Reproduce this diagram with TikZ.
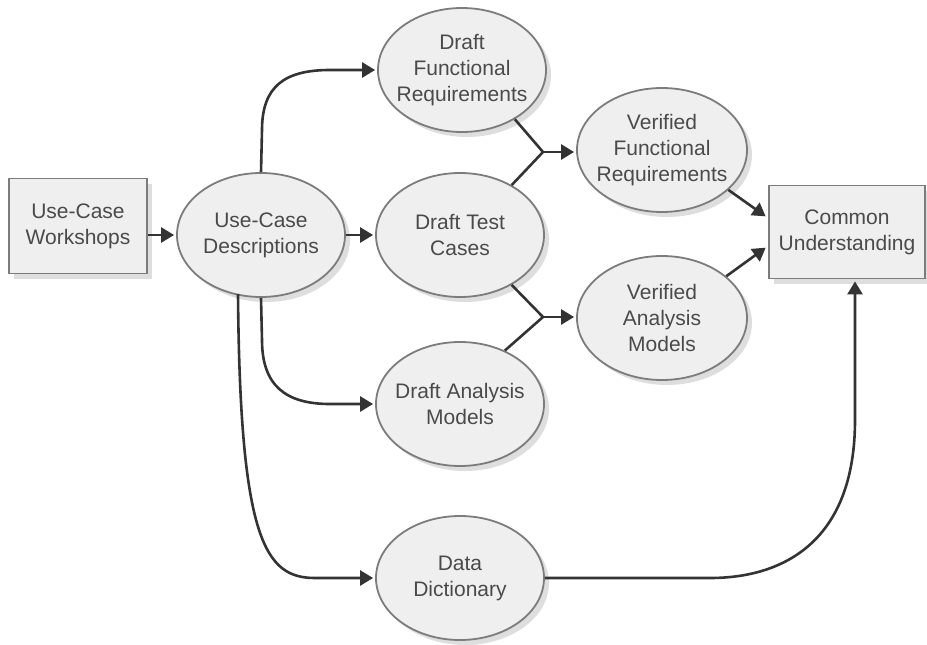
\documentclass[tikz,border=0pt]{standalone}
\usepackage{fontspec}
\setmainfont{Liberation Sans}
\usetikzlibrary{shapes.geometric,shadows,arrows.meta}
\definecolor{linegray}{HTML}{333333}
\definecolor{edgegray}{HTML}{7C7C7C}
\definecolor{fillgray}{HTML}{EFEFEF}
\definecolor{textgray}{HTML}{4A4A4A}
\tikzset{
  base/.style={draw=edgegray, line width=1.8pt, fill=fillgray, text=textgray, align=center,
    font=\fontsize{21}{26}\selectfont,
    drop shadow={shadow xshift=5pt, shadow yshift=-5pt, fill=black!13, opacity=1}},
  bubble/.style={base, ellipse, minimum width=168pt, minimum height=124pt,
    inner xsep=-20pt, inner ysep=-10pt},
  boxnode/.style={base, rectangle, inner sep=0pt},
  flow/.style={draw=linegray, line width=2.6pt, -{Triangle[length=13pt,width=15pt]}, shorten >=2pt},
  joinline/.style={draw=linegray, line width=2.6pt}
}
\begin{document}
\begin{tikzpicture}[x=1pt,y=-1pt]
\useasboundingbox (0,0) rectangle (927,645);
% nodes
\node[boxnode, minimum width=138pt, minimum height=95pt] (ucw) at (78,226) {Use-Case\\Workshops};
\node[bubble] (ucd) at (261,235) {Use-Case\\Descriptions};
\node[bubble] (dfr) at (462,70) {Draft\\Functional\\Requirements};
\node[bubble] (dtc) at (460,235) {Draft Test\\Cases};
\node[bubble] (dam) at (460,404) {Draft Analysis\\Models};
\node[bubble] (dd) at (460,578) {Data\\Dictionary};
\node[bubble, minimum width=170pt] (vfr) at (662,150) {Verified\\Functional\\Requirements};
\node[bubble, minimum width=170pt] (vam) at (662,318) {Verified\\Analysis\\Models};
\node[boxnode, minimum width=156pt, minimum height=93pt] (cu) at (847,232) {Common\\Understanding};
\coordinate (j1) at (543,152);
\coordinate (j2) at (543,317);
% straight arrows
\draw[flow] (ucw.east |- ucd) -- (ucd);
\draw[flow] (ucd) -- (dtc);
% curved arrows from the descriptions
\draw[flow] (ucd.north) -- (262,130) .. controls (262,86) and (285,70) .. (330,70) -- (dfr.west);
\draw[flow] (ucd.south) -- (262,340) .. controls (262,385) and (285,404) .. (330,404) -- (dam.west);
\draw[flow] (238,294) .. controls (240,540) and (265,578) .. (315,578) -- (dd.west);
% merges
\draw[joinline] (dfr.-43) -- (j1) -- (dtc.44);
\draw[flow] (j1) -- (j1 -| vfr.west);
\draw[joinline] (dtc.-44) -- (j2) -- (dam.50);
\draw[flow] (j2) -- (j2 -| vam.west);
% into the common understanding
\draw[flow, shorten >=3pt] (vfr.-31) -- (cu.170);
\draw[flow, shorten >=3pt] (vam.33) -- (cu.190);
\draw[flow] (dd.east) -- (710,578) .. controls (785,578) and (855,540) .. (855,420) -- (cu.south -| 855,0);
\end{tikzpicture}
\end{document}
